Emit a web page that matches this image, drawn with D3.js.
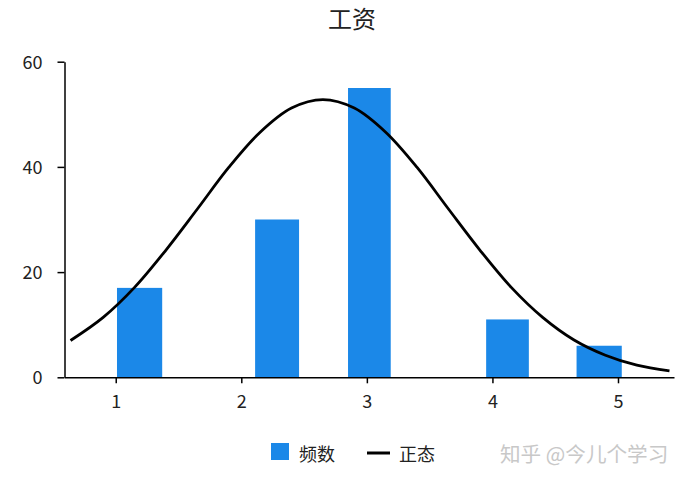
<!DOCTYPE html>
<html>
<head>
<meta charset="utf-8">
<script src="https://cdn.jsdelivr.net/npm/d3@7"></script>
<style>
  body { margin: 0; background: #fff; }
  svg { display: block; font-family: "Noto Sans CJK SC", "Noto Sans", sans-serif; }
</style>
</head>
<body>
<svg id="chart" width="686" height="479"></svg>
<script>
// Histogram bins (start / end of each non-empty bin) and their counts
const binStart = [1.01, 2.11, 2.85, 3.95, 4.67];
const binEnd = [1.37, 2.46, 3.19, 4.29, 5.03];
const counts = [17, 30, 55, 11, 6];

// Normal curve
const normX = [0.64, 0.9, 1.15, 1.4, 1.65, 1.9, 2.15, 2.4, 2.65, 2.9, 3.15, 3.4, 3.65, 3.9, 4.15, 4.4, 4.65, 4.9, 5.15, 5.41];
const normY = [7.0, 11.4, 17.1, 24.2, 32.0, 39.9, 46.6, 51.2, 52.8, 51.2, 46.6, 39.9, 32.0, 24.2, 17.1, 11.4, 7.1, 4.2, 2.3, 1.2];

// Tick labels
const xTicks = [1, 2, 3, 4, 5];
const yTicks = [0, 20, 40, 60];

const BAR_COLOR = '#1b88e8';
const TEXT_COLOR = '#222';

const svg = d3.select('#chart');

const x = d3.scaleLinear()
  .domain([0.592, 5.446])
  .range([64.5, 674]);

const y = d3.scaleLinear()
  .domain([0, 60])
  .range([377.3, 61.7]);

// Title
svg.append('text')
  .attr('x', 352)
  .attr('y', 17)
  .attr('text-anchor', 'middle')
  .attr('dominant-baseline', 'central')
  .attr('font-size', 24)
  .attr('fill', TEXT_COLOR)
  .text('工资');

// Bars
const bins = counts.map((c, i) => ({ x0: binStart[i], x1: binEnd[i], count: c }));

svg.append('g')
  .selectAll('rect')
  .data(bins)
  .join('rect')
    .attr('x', d => x(d.x0))
    .attr('y', d => y(d.count))
    .attr('width', d => x(d.x1) - x(d.x0))
    .attr('height', d => y(0) - y(d.count))
    .attr('fill', BAR_COLOR);

// Normal curve
const line = d3.line()
  .x(d => x(d[0]))
  .y(d => y(d[1]))
  .curve(d3.curveCatmullRom.alpha(0.5));

svg.append('path')
  .datum(normX.map((v, i) => [v, normY[i]]))
  .attr('d', line)
  .attr('fill', 'none')
  .attr('stroke', '#000')
  .attr('stroke-width', 2.8);

// Axes
const styleAxis = (g) => {
  g.selectAll('.domain').attr('stroke', '#000').attr('stroke-width', 1.5);
  g.selectAll('.tick line').attr('stroke', '#000').attr('stroke-width', 1.5);
  g.selectAll('.tick text')
    .attr('font-size', 18)
    .attr('fill', TEXT_COLOR)
    .attr('font-family', '"Noto Sans CJK SC", "Noto Sans", sans-serif');
};

svg.append('g')
  .attr('transform', `translate(0,${y(0)})`)
  .call(d3.axisBottom(x).tickValues(xTicks).tickSize(6).tickSizeOuter(0).tickFormat(d3.format('d')))
  .call(styleAxis)
  .call(g => g.selectAll('.tick text').attr('y', 24).attr('dy', '0.35em'));

svg.append('g')
  .attr('transform', `translate(${x.range()[0]},0)`)
  .call(d3.axisLeft(y).tickValues(yTicks).tickSize(7).tickPadding(15).tickSizeOuter(0))
  .call(styleAxis)
  .call(g => g.selectAll('.tick text').attr('dy', '0.35em'));

// Legend
const legend = svg.append('g').attr('font-size', 18).attr('fill', TEXT_COLOR);

legend.append('rect')
  .attr('x', 271)
  .attr('y', 443)
  .attr('width', 18)
  .attr('height', 17)
  .attr('fill', BAR_COLOR);

legend.append('text')
  .attr('x', 299)
  .attr('y', 453)
  .attr('dominant-baseline', 'central')
  .text('频数');

legend.append('line')
  .attr('x1', 367)
  .attr('x2', 390)
  .attr('y1', 453)
  .attr('y2', 453)
  .attr('stroke', '#000')
  .attr('stroke-width', 3);

legend.append('text')
  .attr('x', 399)
  .attr('y', 453)
  .attr('dominant-baseline', 'central')
  .text('正态');

// Watermark
svg.append('text')
  .attr('x', 500)
  .attr('y', 453)
  .attr('dominant-baseline', 'central')
  .attr('font-size', 20.6)
  .attr('fill', '#c8c8c8')
  .text('知乎 @今儿个学习');
</script>
</body>
</html>
